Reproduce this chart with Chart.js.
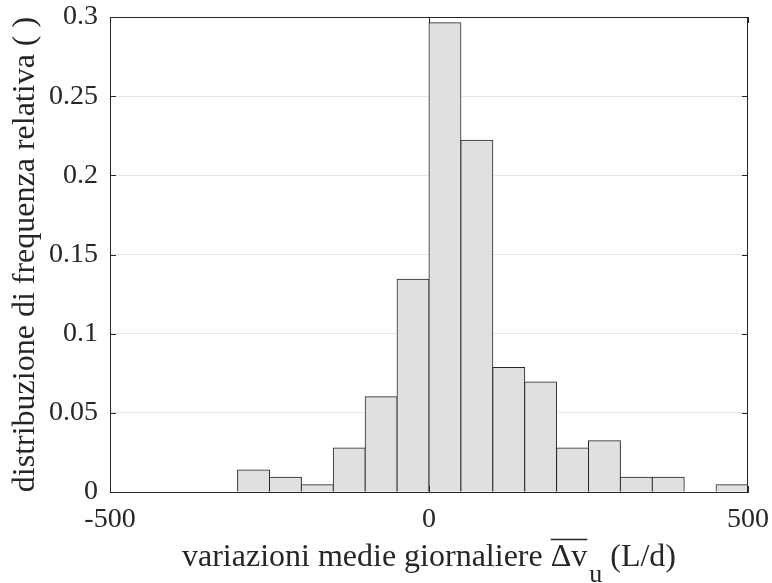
<!DOCTYPE html>
<html>
<head>
<meta charset="utf-8">
<script src="https://cdn.jsdelivr.net/npm/chart.js@4/dist/chart.umd.min.js"></script>
<style>
html,body{margin:0;padding:0;background:#fff;}
#wrap{width:772px;height:583px;}
</style>
</head>
<body>
<div id="wrap"><canvas id="c" width="772" height="583"></canvas></div>
<script>
// ---- data ----
const binCenters = [-275,-225,-175,-125,-75,-25,25,75,125,175,225,275,325,375,425,475];
const frequencies = [0.0139,0.0093,0.0046,0.0278,0.0602,0.1343,0.2963,0.2222,0.0787,0.0694,0.0278,0.0324,0.0093,0.0093,0,0.0046];
const xTicks = [-500,0,500];
const yTicks = [0,0.05,0.1,0.15,0.2,0.25,0.3];
const yTitle = 'distribuzione di frequenza relativa ( )';
const xTitleMain = 'variazioni medie giornaliere ';
const xTitleSymbol = 'Δv';
const xTitleSub = 'u';
const xTitleUnit = ' (L/d)';

const FONT = "'Liberation Serif', 'Times New Roman', serif";
const INK = '#262626';
const TICK_SIZE = 28;
const TITLE_SIZE = 32;
const SUB_SIZE = 26;

const boxPlugin = {
  id: 'box',
  afterDraw(chart) {
    const {ctx, chartArea: a, scales: {x, y}} = chart;
    ctx.save();
    ctx.strokeStyle = INK;
    ctx.lineWidth = 1;
    ctx.beginPath();
    ctx.moveTo(a.left, a.top + 0.5); ctx.lineTo(a.right, a.top + 0.5);
    ctx.moveTo(a.right - 0.5, a.top); ctx.lineTo(a.right - 0.5, a.bottom);
    yTicks.forEach(v => {
      const p = Math.round(y.getPixelForValue(v)) + 0.5;
      ctx.moveTo(a.left, p); ctx.lineTo(a.left + 6, p);
      ctx.moveTo(a.right, p); ctx.lineTo(a.right - 6, p);
    });
    xTicks.forEach(v => {
      const p = Math.round(x.getPixelForValue(v)) + 0.5;
      ctx.moveTo(p, a.bottom); ctx.lineTo(p, a.bottom - 6);
      ctx.moveTo(p, a.top); ctx.lineTo(p, a.top + 6);
    });
    ctx.stroke();

    // x-axis title with overline and subscript
    const mainFont = TITLE_SIZE + 'px ' + FONT;
    const subFont = SUB_SIZE + 'px ' + FONT;
    ctx.fillStyle = INK;
    ctx.textBaseline = 'alphabetic';
    ctx.textAlign = 'left';
    ctx.font = mainFont;
    const w1 = ctx.measureText(xTitleMain).width;
    const w2 = ctx.measureText(xTitleSymbol).width;
    const w4 = ctx.measureText(xTitleUnit).width;
    ctx.font = subFont;
    const w3 = ctx.measureText(xTitleSub).width;
    const total = w1 + w2 + w3 + w4 + 2;
    const cx = (a.left + a.right) / 2;
    const base = 566;
    let sx = cx - total / 2;
    ctx.font = mainFont;
    ctx.fillText(xTitleMain, sx, base); sx += w1;
    ctx.fillText(xTitleSymbol, sx, base);
    ctx.beginPath();
    ctx.lineWidth = 1.5;
    ctx.moveTo(sx, 539.5); ctx.lineTo(sx + w2, 539.5);
    ctx.stroke();
    sx += w2 + 2;
    ctx.font = subFont;
    ctx.fillText(xTitleSub, sx, base + 16); sx += w3;
    ctx.font = mainFont;
    ctx.fillText(xTitleUnit, sx, base);
    ctx.restore();
  }
};

new Chart(document.getElementById('c'), {
  type: 'bar',
  data: {
    datasets: [{
      data: binCenters.map((c, i) => ({x: c, y: frequencies[i]})),
      backgroundColor: '#e0e0e0',
      borderColor: INK,
      borderWidth: 1,
      borderSkipped: 'start',
      inflateAmount: 0.5,
      barPercentage: 1,
      categoryPercentage: 1
    }]
  },
  options: {
    responsive: false,
    animation: false,
    devicePixelRatio: 1,
    layout: {padding: {top: 17, right: 24, left: 0, bottom: 0}},
    plugins: {legend: {display: false}, tooltip: {enabled: false}},
    scales: {
      x: {
        type: 'linear', min: -500, max: 500, offset: false,
        afterBuildTicks: s => { s.ticks = xTicks.map(v => ({value: v})); },
        afterFit: s => { s.height = 91; s.paddingLeft = 0; s.paddingRight = 0; },
        ticks: {font: {family: FONT, size: TICK_SIZE}, color: INK, padding: 11, maxRotation: 0, autoSkip: false,
                callback: v => String(v)},
        grid: {display: false, drawTicks: false},
        border: {color: INK, width: 1}
      },
      y: {
        min: 0, max: 0.3,
        afterBuildTicks: s => { s.ticks = yTicks.map(v => ({value: v})); },
        afterFit: s => { s.width = 110; s.paddingTop = 0; s.paddingBottom = 0; },
        ticks: {font: {family: FONT, size: TICK_SIZE}, color: INK, padding: 12,
                callback: v => String(Number(v.toFixed(2)))},
        grid: {color: '#e6e6e6', drawTicks: false},
        border: {color: INK, width: 1},
        title: {display: true, text: yTitle, color: INK, font: {family: FONT, size: TITLE_SIZE},
                padding: {top: 6, bottom: 0}}
      }
    }
  },
  plugins: [boxPlugin]
});
</script>
</body>
</html>
